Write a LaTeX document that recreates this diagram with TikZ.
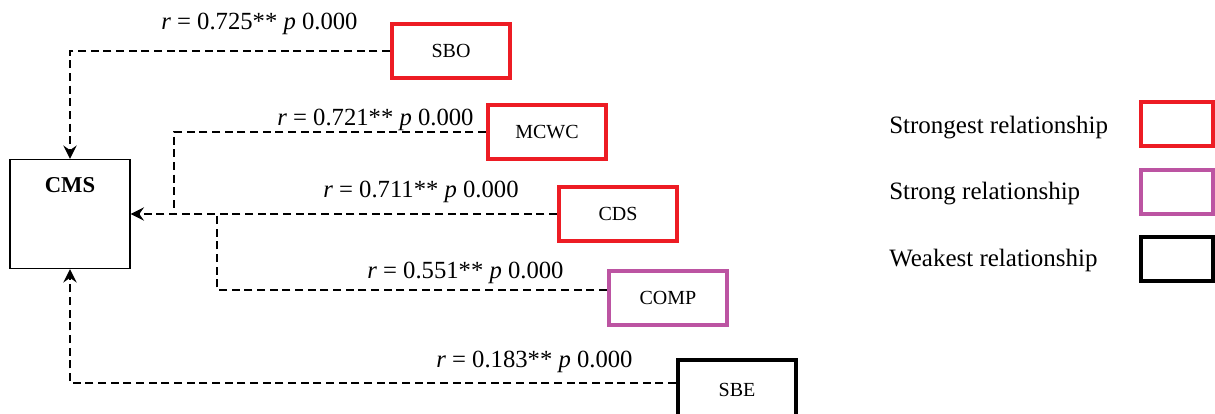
\documentclass[tikz,border=0pt]{standalone}
\usepackage{fontspec}
\setmainfont{Liberation Serif}
\usepackage{tikz}
\usetikzlibrary{arrows.meta,positioning}

\definecolor{strongred}{RGB}{237,28,36}
\definecolor{strongpurple}{RGB}{188,84,162}

\begin{document}
\begin{tikzpicture}[x=0.75pt,y=0.75pt,yscale=-1,xscale=1,
	varbox/.style={draw, line width=3pt, minimum width=88.5pt, minimum height=40pt, inner sep=0pt, font=\fontsize{15}{16}\selectfont},
	keybox/.style={draw, line width=3pt, minimum width=54pt, minimum height=33pt, inner sep=0pt},
	link/.style={line width=1.3pt, dash pattern=on 6pt off 3.5pt},
	conn/.style={link, -{Stealth[length=10pt,width=10pt,inset=3.5pt]}},
	rlabel/.style={anchor=base west, inner sep=0pt, font=\fontsize{18.5}{20}\selectfont},
	keylabel/.style={anchor=base west, inner sep=0pt, font=\fontsize{18.75}{20}\selectfont}]
				%set diagram frame to the size of the figure
				\useasboundingbox (0,0) rectangle (1215,414);
				
				%Shape: Rectangle [CMS]
				\node [draw, line width=1pt, minimum width=90pt, minimum height=81.75pt] (cms) at (70,214) {};
				\node [font=\fontsize{17}{18}\selectfont\bfseries, inner sep=0pt] (cmstext) at (70,185) {CMS};
				
				%Shape: Rectangle [predictors]
				\node [varbox, draw=strongred] (sbo) at (451,51) {SBO};
				\node [varbox, draw=strongred] (mcwc) at (547,132) {MCWC};
				\node [varbox, draw=strongred] (cds) at (618,214) {CDS};
				\node [varbox, draw=strongpurple] (comp) at (668,298) {COMP};
				\node [varbox, draw=black, minimum height=45pt] (sbe) at (737,390) {SBE};
				
				%Straight Lines [joins]
				\coordinate (mjoin) at (174,214);
				\coordinate (cjoin) at (217,214);
				\coordinate (compin) at ([yshift=-6pt]comp.west);
				\coordinate (sbein) at ([yshift=-5.25pt]sbe.west);
				
				\draw [conn] (sbo.west) -- (sbo.west -| cms.north) -- (cms.north);
				\draw [link] (mcwc.west) -- (mcwc.west -| mjoin) -- (mjoin);
				\draw [conn] (cds.west) -- (cms.east);
				\draw [link] (compin) -- (compin -| cjoin) -- (cjoin);
				\draw [conn] (sbein) -- (sbein -| cms.south) -- (cms.south);
				
				% Text Node
				\node [rlabel] (r1) at (161,30) {\textit{r} = 0.725** \textit{p} 0.000};
				% Text Node
				\node [rlabel] (r2) at (277,125) {\textit{r} = 0.721** \textit{p} 0.000};
				% Text Node
				\node [rlabel] (r3) at (323,197) {\textit{r} = 0.711** \textit{p} 0.000};
				% Text Node
				\node [rlabel] (r4) at (367,278) {\textit{r} = 0.551** \textit{p} 0.000};
				% Text Node
				\node [rlabel] (r5) at (436,367) {\textit{r} = 0.183** \textit{p} 0.000};
				
				%Shape: Rectangle [legend]
				\node [keybox, draw=strongred] (keyred) at (1177,124) {};
				\node [keybox, draw=strongpurple] (keypurple) at (1177,191.5) {};
				\node [keybox, draw=black] (keyblack) at (1177,259) {};
				
				% Text Node
				\node [keylabel] (k1) at (889,133) {Strongest relationship};
				% Text Node
				\node [keylabel] (k2) at (889,199) {Strong relationship};
				% Text Node
				\node [keylabel] (k3) at (889,266) {Weakest relationship};
				
\end{tikzpicture}
\end{document}
